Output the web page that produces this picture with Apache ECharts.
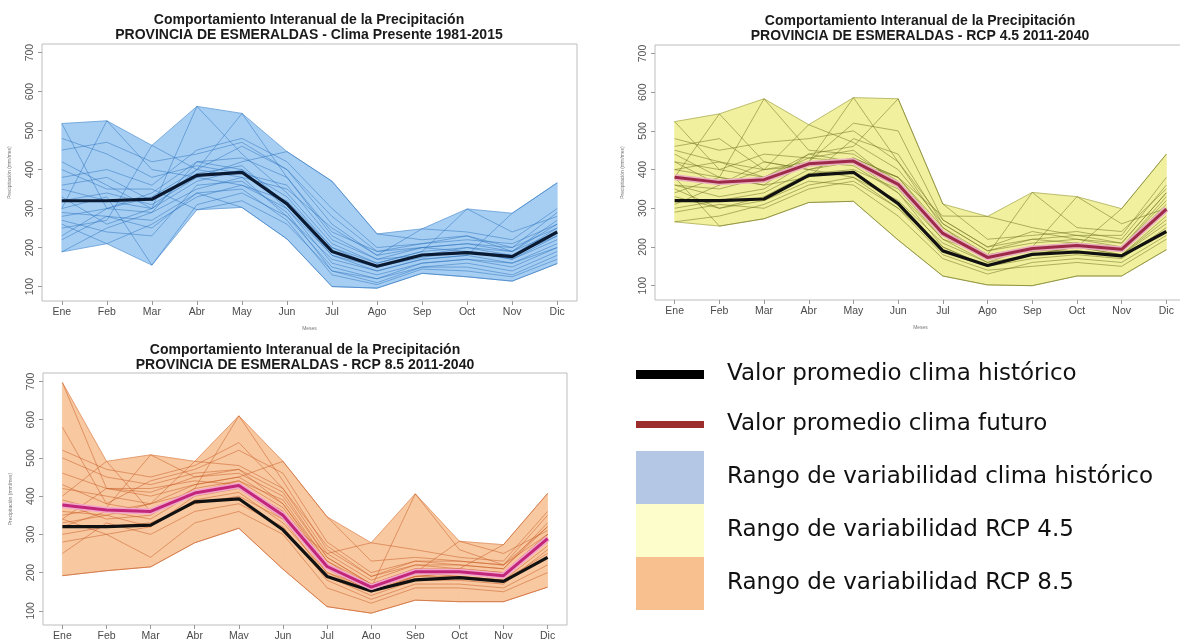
<!DOCTYPE html>
<html>
<head>
<meta charset="utf-8">
<script src="https://cdn.jsdelivr.net/npm/echarts@6.0.0/dist/echarts.min.js"></script>
<style>
html,body{margin:0;padding:0;background:#fff;}
#chart{width:1180px;height:639px;}
</style>
</head>
<body>
<div id="chart"></div>
<script>
// ---------- DATA ----------
const months = ['Ene','Feb','Mar','Abr','May','Jun','Jul','Ago','Sep','Oct','Nov','Dic'];
const yTicks = [100,200,300,400,500,600,700];

const titleHist = 'Comportamiento Interanual de la Precipitación\nPROVINCIA DE ESMERALDAS - Clima Presente 1981-2015';
const titleRcp45 = 'Comportamiento Interanual de la Precipitación\nPROVINCIA DE ESMERALDAS - RCP 4.5 2011-2040';
const titleRcp85 = 'Comportamiento Interanual de la Precipitación\nPROVINCIA DE ESMERALDAS - RCP 8.5 2011-2040';

// mean historical climate (black line)
const meanHist = [320, 320, 324, 385, 393, 312, 190, 152, 181, 187, 177, 240];
// mean future climate (red / magenta lines)
const meanRcp45 = [380, 367, 374, 415, 422, 362, 235, 173, 196, 204, 194, 298];
const meanRcp85 = [377, 364, 360, 408, 428, 350, 216, 162, 202, 202, 192, 289];

// variability range envelopes
const histMin = [189, 210, 155, 297, 303, 222, 100, 96, 134, 125, 114, 159];
const histMax = [518, 525, 462, 562, 544, 446, 370, 235, 248, 299, 288, 366];
const rcp45Min = [265, 254, 273, 315, 318, 218, 125, 102, 100, 125, 125, 193];
const rcp45Max = [524, 544, 583, 516, 586, 583, 311, 279, 341, 330, 299, 440];
const rcp85Min = [192, 205, 215, 278, 316, 209, 111, 94, 128, 124, 124, 162];
const rcp85Max = [697, 491, 508, 491, 610, 491, 346, 278, 406, 282, 273, 407];

// individual years (thin lines)
const histYears = [
  [518, 300, 290, 420, 400, 330, 200, 150, 175, 190, 170, 230],
  [300, 525, 400, 380, 360, 300, 180, 140, 170, 180, 160, 210],
  [250, 270, 462, 400, 380, 280, 150, 120, 160, 170, 150, 200],
  [350, 320, 300, 562, 440, 340, 210, 160, 190, 200, 180, 250],
  [280, 300, 330, 400, 544, 380, 230, 170, 200, 210, 190, 260],
  [320, 340, 310, 380, 420, 446, 370, 235, 220, 230, 200, 290],
  [189, 250, 290, 350, 380, 350, 250, 180, 248, 240, 220, 300],
  [260, 210, 260, 330, 360, 320, 200, 160, 190, 299, 240, 280],
  [300, 330, 155, 310, 340, 280, 170, 140, 170, 180, 288, 366],
  [400, 350, 350, 297, 320, 260, 140, 110, 150, 160, 140, 190],
  [220, 280, 270, 340, 303, 222, 100, 96, 134, 125, 114, 159],
  [450, 470, 420, 440, 470, 400, 260, 180, 200, 190, 180, 230],
  [380, 400, 360, 450, 480, 420, 300, 200, 210, 220, 210, 260],
  [330, 260, 300, 370, 400, 300, 160, 130, 160, 170, 160, 200],
  [480, 440, 380, 410, 390, 360, 220, 170, 180, 200, 190, 240],
  [270, 240, 230, 360, 370, 290, 140, 120, 150, 150, 130, 180],
  [230, 300, 340, 420, 430, 380, 240, 190, 210, 230, 190, 270],
  [360, 380, 320, 390, 410, 310, 180, 150, 180, 190, 170, 220],
  [290, 280, 250, 340, 350, 270, 130, 105, 145, 140, 125, 170],
  [420, 360, 300, 400, 460, 400, 280, 190, 200, 210, 200, 250]
];
const rcp45Years = [
  [524, 400, 380, 430, 420, 360, 240, 170, 190, 200, 190, 290],
  [380, 544, 420, 400, 430, 380, 250, 180, 200, 210, 200, 320],
  [340, 380, 583, 450, 440, 370, 230, 170, 200, 210, 190, 300],
  [420, 360, 400, 516, 470, 400, 260, 190, 210, 220, 200, 330],
  [360, 330, 350, 420, 586, 420, 270, 200, 220, 230, 210, 340],
  [400, 380, 360, 440, 460, 583, 311, 220, 230, 240, 220, 360],
  [300, 320, 340, 400, 420, 380, 280, 279, 250, 230, 230, 380],
  [330, 300, 330, 390, 400, 350, 220, 180, 341, 250, 240, 350],
  [450, 420, 380, 420, 410, 340, 220, 160, 200, 330, 260, 300],
  [265, 280, 310, 360, 380, 300, 200, 150, 180, 200, 299, 440],
  [380, 254, 273, 315, 318, 218, 125, 102, 100, 125, 125, 193],
  [480, 450, 470, 480, 500, 420, 250, 170, 190, 200, 180, 280],
  [290, 310, 300, 350, 370, 300, 180, 140, 150, 160, 150, 220],
  [400, 420, 400, 410, 430, 380, 240, 180, 190, 190, 180, 260],
  [360, 350, 380, 440, 420, 340, 200, 150, 170, 180, 170, 250],
  [440, 380, 360, 380, 480, 440, 260, 190, 220, 210, 190, 300],
  [310, 360, 420, 400, 380, 320, 210, 160, 180, 200, 180, 270],
  [420, 400, 440, 430, 450, 360, 230, 170, 200, 200, 200, 310],
  [350, 300, 320, 370, 360, 280, 170, 130, 160, 170, 160, 230],
  [460, 480, 400, 420, 520, 500, 270, 200, 240, 220, 210, 340]
];
const rcp85Years = [
  [697, 420, 400, 430, 450, 380, 230, 160, 200, 200, 190, 290],
  [580, 380, 360, 420, 440, 370, 220, 160, 190, 200, 190, 280],
  [400, 491, 360, 410, 430, 360, 210, 150, 190, 200, 190, 290],
  [350, 370, 508, 450, 460, 400, 240, 170, 210, 210, 200, 300],
  [330, 350, 380, 491, 480, 420, 250, 180, 220, 220, 210, 320],
  [380, 340, 350, 420, 610, 440, 260, 190, 230, 220, 210, 330],
  [420, 400, 380, 430, 450, 491, 346, 230, 240, 230, 220, 350],
  [300, 320, 330, 380, 400, 340, 250, 278, 260, 240, 230, 360],
  [340, 300, 320, 390, 410, 330, 200, 160, 406, 260, 220, 300],
  [460, 420, 420, 440, 430, 350, 200, 150, 200, 282, 250, 310],
  [500, 450, 430, 460, 470, 380, 220, 160, 200, 210, 273, 407],
  [192, 205, 215, 278, 316, 209, 111, 94, 128, 124, 124, 162],
  [280, 300, 240, 330, 360, 300, 160, 120, 160, 160, 150, 200],
  [360, 350, 320, 400, 420, 340, 190, 140, 180, 180, 170, 260],
  [430, 380, 440, 470, 520, 460, 280, 200, 230, 230, 220, 320],
  [320, 360, 380, 410, 440, 390, 230, 170, 200, 190, 180, 270],
  [250, 330, 300, 360, 380, 320, 180, 130, 170, 170, 160, 220],
  [520, 470, 450, 480, 540, 420, 270, 190, 220, 210, 200, 300],
  [390, 360, 340, 410, 430, 360, 210, 150, 190, 190, 180, 250],
  [340, 420, 410, 450, 470, 410, 240, 170, 210, 200, 190, 290]
];

const legendNames = [
  'Valor promedio clima histórico',
  'Valor promedio clima futuro',
  'Rango de variabilidad clima histórico',
  'Rango de variabilidad RCP 4.5',
  'Rango de variabilidad RCP 8.5'
];

// ---------- BUILD ----------
const pts = arr => arr.map((v, i) => [i + 1, v]);
const monthIdx = months.map((m, i) => i + 1);
// band segments: [x, min, max, xNext, minNext, maxNext]
const bandRows = (mn, mx) => mn.slice(0, -1).map((v, i) => [i + 1, v, mx[i], i + 2, mn[i + 1], mx[i + 1]]);

const panels = [
  { grid: {left: 42, top: 44, width: 535, height: 257}, titleX: 309, titleTop: 12,
    title: titleHist, years: histYears, min: histMin, max: histMax, fut: null,
    band: '#a6cef3', thin: 'rgba(45,115,190,0.5)', edge: 'rgba(45,115,190,0.4)', meanColor: '#0b1a33',
    bandName: legendNames[2] },
  { grid: {left: 655, top: 45, width: 531, height: 255}, titleX: 920, titleTop: 13,
    title: titleRcp45, years: rcp45Years, min: rcp45Min, max: rcp45Max, fut: meanRcp45,
    band: '#f1f09e', thin: 'rgba(105,110,25,0.5)', edge: 'rgba(105,110,25,0.4)', meanColor: '#111',
    futColor: '#9e2a4a', futHalo: '#e9b3c0', bandName: legendNames[3] },
  { grid: {left: 43, top: 373, width: 524, height: 252}, titleX: 305, titleTop: 342,
    title: titleRcp85, years: rcp85Years, min: rcp85Min, max: rcp85Max, fut: meanRcp85,
    band: '#f8c8a0', thin: 'rgba(200,90,35,0.5)', edge: 'rgba(200,90,35,0.4)', meanColor: '#111',
    futColor: '#c2267a', futHalo: '#f2a8cc', bandName: legendNames[4] }
];

const grids = [], xAxes = [], yAxes = [], series = [], titles = [];
panels.forEach((p, k) => {
  grids.push(Object.assign({show: true, borderColor: '#bdbdbd', borderWidth: 1, backgroundColor: 'transparent',
    containLabel: false, outerBoundsMode: 'none'}, p.grid));
  titles.push({
    text: p.title, left: p.titleX, top: p.titleTop, textAlign: 'center', padding: 0,
    textStyle: {fontFamily: 'Liberation Sans, Arial, sans-serif', fontWeight: 'bold', fontSize: 14, lineHeight: 15.5, color: '#1a1a1a'}
  });
  xAxes.push({
    type: 'value', gridIndex: k, min: 0.56, max: 12.44,
    name: 'Meses', nameLocation: 'middle', nameGap: 25,
    nameTextStyle: {fontSize: 5, color: '#777', fontFamily: 'Liberation Sans'},
    axisLine: {show: false},
    splitLine: {show: false},
    axisTick: {show: true, length: 4, lineStyle: {color: '#999'}, customValues: monthIdx},
    axisLabel: {show: true, customValues: monthIdx, margin: 6, fontSize: 10.5, color: '#4a4a4a',
      fontFamily: 'Liberation Sans, Arial, sans-serif',
      formatter: v => months[Math.round(v) - 1] || ''}
  });
  yAxes.push({
    type: 'value', gridIndex: k, min: 63, max: 722,
    name: 'Precipitación (mm/mes)', nameLocation: 'middle', nameGap: 30, nameRotate: 90,
    nameTextStyle: {fontSize: 5, color: '#777', fontFamily: 'Liberation Sans'},
    axisLine: {show: false},
    splitLine: {show: false},
    axisTick: {show: true, length: 4, lineStyle: {color: '#999'}, customValues: yTicks},
    axisLabel: {show: true, customValues: yTicks, rotate: 90, margin: 6, fontSize: 10.5, color: '#555',
      fontFamily: 'Liberation Sans, Arial, sans-serif'}
  });
  // variability band (polygon segments through the axis scales)
  const bandColor = p.band;
  series.push({
    name: p.bandName, type: 'custom', xAxisIndex: k, yAxisIndex: k,
    data: bandRows(p.min, p.max), silent: true, z: 1, color: bandColor,
    encode: {x: [0, 3], y: [1, 2, 4, 5]},
    renderItem: (params, api) => {
      const a = api.coord([api.value(0), api.value(2)]);
      const b = api.coord([api.value(3), api.value(5)]);
      const c = api.coord([api.value(3), api.value(4)]);
      const d = api.coord([api.value(0), api.value(1)]);
      return {
        type: 'polygon',
        shape: {points: [a, b, c, d]},
        style: {fill: bandColor, stroke: bandColor, lineWidth: 0.8}
      };
    }
  });
  series.push({
    name: 'edgeMin' + k, type: 'line', xAxisIndex: k, yAxisIndex: k,
    data: pts(p.min), showSymbol: false, silent: true, z: 2,
    lineStyle: {color: p.edge, width: 1}
  });
  series.push({
    name: 'edgeMax' + k, type: 'line', xAxisIndex: k, yAxisIndex: k,
    data: pts(p.max), showSymbol: false, silent: true, z: 2,
    lineStyle: {color: p.edge, width: 1}
  });
  p.years.forEach((yr, j) => {
    series.push({
      name: 'year' + k + '_' + j, type: 'line', xAxisIndex: k, yAxisIndex: k,
      data: pts(yr), showSymbol: false, silent: true, z: 2,
      lineStyle: {color: p.thin, width: 1}
    });
  });
  series.push({
    name: legendNames[0], type: 'line', xAxisIndex: k, yAxisIndex: k,
    data: pts(meanHist), showSymbol: false, silent: true, z: 4, color: '#000',
    lineStyle: {color: p.meanColor, width: 3.2}
  });
  if (p.fut) {
    series.push({
      name: 'halo' + k, type: 'line', xAxisIndex: k, yAxisIndex: k,
      data: pts(p.fut), showSymbol: false, silent: true, z: 4,
      lineStyle: {color: p.futHalo, width: 6}
    });
    series.push({
      name: legendNames[1], type: 'line', xAxisIndex: k, yAxisIndex: k,
      data: pts(p.fut), showSymbol: false, silent: true, z: 5, color: '#9b2d2d',
      lineStyle: {color: p.futColor, width: 3}
    });
  }
});

const legTxt = {fontFamily: 'DejaVu Sans, Verdana, sans-serif', fontSize: 23, color: '#111', padding: [0, 0, 0, 18]};
const legends = [
  {orient: 'vertical', left: 636, top: 363, padding: 0, itemWidth: 68, itemHeight: 9, selectedMode: false,
   textStyle: legTxt,
   data: [{name: legendNames[0], icon: 'rect', itemStyle: {color: '#000', borderWidth: 0}}]},
  {orient: 'vertical', left: 636, top: 413, padding: 0, itemWidth: 68, itemHeight: 7, selectedMode: false,
   textStyle: legTxt,
   data: [{name: legendNames[1], icon: 'rect', itemStyle: {color: '#9b2d2d', borderWidth: 0}}]},
  {orient: 'vertical', left: 636, top: 451, padding: 0, itemWidth: 68, itemHeight: 53, itemGap: 0, selectedMode: false,
   textStyle: legTxt,
   data: [
     {name: legendNames[2], icon: 'rect', itemStyle: {color: '#b4c8e6', borderWidth: 0}},
     {name: legendNames[3], icon: 'rect', itemStyle: {color: '#fdfdcb', borderWidth: 0}},
     {name: legendNames[4], icon: 'rect', itemStyle: {color: '#f8bf8f', borderWidth: 0}}
   ]}
];

const chart = echarts.init(document.getElementById('chart'), null, {renderer: 'canvas'});
chart.setOption({
  animation: false,
  backgroundColor: '#fff',
  title: titles,
  legend: legends,
  grid: grids,
  xAxis: xAxes,
  yAxis: yAxes,
  series: series
});
</script>
</body>
</html>
